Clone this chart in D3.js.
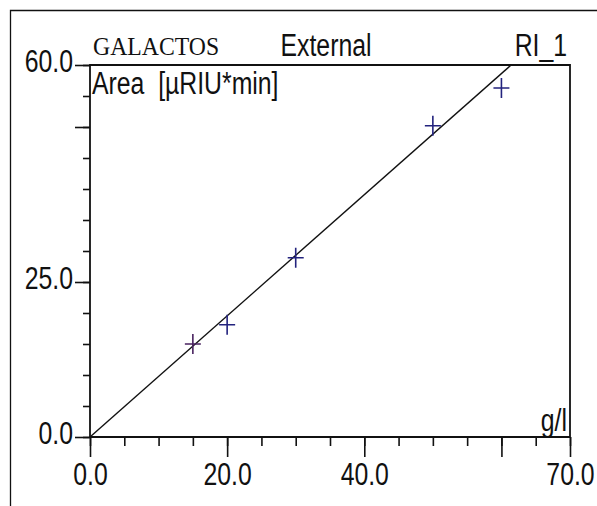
<!DOCTYPE html>
<html>
<head>
<meta charset="utf-8">
<script src="https://cdn.jsdelivr.net/npm/d3@7"></script>
<style>
  html, body { margin: 0; padding: 0; background: #fff; }
  svg { display: block; }
</style>
</head>
<body>
<svg id="chart" width="597" height="506"></svg>
<script>
// ---- data ----
const concentration = [15, 20, 30, 50, 60];          // g/l
const area = [15.0, 18.1, 28.9, 50.2, 56.3];          // µRIU*min
const fitSlope = 0.977;                                // calibration line through origin
const xMinorTicks = d3.range(0, 71, 5);
const xMajorTicks = [0, 20, 40, 60, 70];
const xTickLabels = ["0.0", "20.0", "40.0", "", "70.0"];
const yMinorTicks = d3.range(0, 61, 5);
const yMajorTicks = [0, 25, 50, 60];
const yTickLabels = ["0.0", "25.0", "", "60.0"];
const titleLeft = "GALACTOS";
const titleMid = "External";
const titleRight = "RI_1";
const yAxisTitle = "Area  [µRIU*min]";
const xAxisTitle = "g/l";

// ---- layout ----
const svg = d3.select("#chart");
const W = 597, H = 506;
const x0 = 90, x1 = 570, y0 = 437, y1 = 65;
const x = d3.scaleLinear().domain([0, 70]).range([x0, x1]);
const y = d3.scaleLinear().domain([0, 60]).range([y0, y1]);
const ink = "#111";
const FS = 31;
const SX = 0.8;   // horizontal squeeze to mimic a narrow sans
const SANS = '"Liberation Sans", Arial, sans-serif';

svg.append("rect").attr("width", W).attr("height", H).attr("fill", "#fff");

// outer frame (top + left)
svg.append("path").attr("d", `M10.5,${H} V10.5 H${W}`)
  .attr("fill", "none").attr("stroke", ink).attr("stroke-width", 1.3);

// x axis: minor & major ticks
const gx = svg.append("g").attr("transform", `translate(0,${y0})`);
gx.call(d3.axisBottom(x).tickValues(xMinorTicks).tickSize(9).tickFormat(""));
gx.append("g").call(d3.axisBottom(x).tickValues(xMajorTicks).tickSize(20).tickPadding(6)
  .tickFormat((d, i) => xTickLabels[i]));
gx.selectAll(".domain").remove();
gx.selectAll("line").attr("stroke", ink).attr("stroke-width", 1.6);
gx.selectAll("text").attr("font-size", FS).attr("fill", ink).attr("font-family", SANS)
  .attr("transform", `scale(${SX},1)`);

// y axis
const gy = svg.append("g").attr("transform", `translate(${x0},0)`);
gy.call(d3.axisLeft(y).tickValues(yMinorTicks).tickSize(7).tickFormat(""));
gy.append("g").call(d3.axisLeft(y).tickValues(yMajorTicks).tickSize(15).tickPadding(2)
  .tickFormat((d, i) => yTickLabels[i]));
gy.selectAll(".domain").remove();
gy.selectAll("line").attr("stroke", ink).attr("stroke-width", 1.6);
gy.selectAll("text").attr("font-size", FS).attr("fill", ink).attr("dy", "0.2em")
  .attr("font-family", SANS)
  .attr("x", -17 / SX).attr("transform", `scale(${SX},1)`);

// axis lines + plot box (top, right)
svg.append("path")
  .attr("d", `M${x0},${y(0)} H${x(70)} M${x0},${y(0)} V${y(60)} H${x(70)} V${y(0)}`)
  .attr("fill", "none").attr("stroke", ink).attr("stroke-width", 1.8);

// calibration line through origin, clipped at top
const xEnd = Math.min(70, 60 / fitSlope);
svg.append("line")
  .attr("x1", x(0)).attr("y1", y(0))
  .attr("x2", x(xEnd)).attr("y2", y(fitSlope * xEnd))
  .attr("stroke", ink).attr("stroke-width", 1.4);

// data crosses
const pts = concentration.map((c, i) => ({ c, a: area[i] }));
const g = svg.append("g").attr("stroke-width", 1.6).attr("fill", "none");
g.selectAll("path").data(pts).join("path")
  .attr("stroke", (d, i) => i === 0 ? "#4a2360" : "#23237e")
  .attr("d", d => {
    const px = x(d.c), py = y(d.a);
    return `M${px - 8},${py} H${px + 8} M${px},${py - 10} V${py + 10}`;
  });

// titles
function narrow(tx, ty, anchor, txt) {
  return svg.append("text")
    .attr("transform", `translate(${tx},${ty}) scale(${SX},1)`)
    .attr("text-anchor", anchor).attr("font-family", SANS)
    .attr("font-size", FS).attr("fill", ink)
    .style("white-space", "pre").text(txt);
}
svg.append("text").attr("transform", "translate(93,55) scale(0.95,1)")
  .attr("font-family", '"Liberation Serif", "Times New Roman", serif')
  .attr("font-size", 25).attr("fill", ink).text(titleLeft);
narrow(326, 56, "middle", titleMid);
narrow(567, 56, "end", titleRight);
narrow(92, 94, "start", yAxisTitle);
narrow(567, 431, "end", xAxisTitle);
</script>
</body>
</html>
